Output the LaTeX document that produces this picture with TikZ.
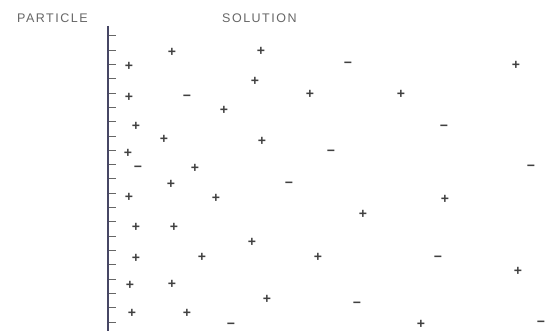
\documentclass[tikz,border=0pt]{standalone}
\usepackage{fontspec}
\newfontfamily\labelfont[LetterSpace=12]{Liberation Sans}
\newfontfamily\chargefont{Liberation Sans}
\usetikzlibrary{positioning,calc}
\definecolor{wallgray}{RGB}{70,70,100}

\begin{document}
\begin{tikzpicture}[
    x=1pt, y=-1pt,
    lbl/.style={inner sep=0pt, anchor=base west, text=black!60, font=\labelfont\fontsize{12.5}{12.5}\selectfont},
    cation/.style={inner sep=0pt, text=black!75, font=\chargefont\bfseries\fontsize{14}{14}\selectfont},
    anion/.style={cation},
    wall/.style={draw=wallgray, line width=2pt},
    tick/.style={draw=black!60, line width=1pt}
]
    \useasboundingbox (0,0) rectangle (549,331);

    % Labels
    \node[lbl] (particle) at (17,23) {PARTICLE};
    \node[lbl] (solution) at (222,23) {SOLUTION};

    % Particle surface
    \coordinate (top) at (107.5,26);
    \coordinate (bottom) at (107.5,331);
    \draw[wall] (top) -- (bottom);
    \foreach \i in {0,...,20}
        \draw[tick] ($(top)+(1.5,9.7+\i*14.33)$) -- ++(7,0);

    % Positive ions
    \foreach \x/\y [count=\n] in {172/52, 261/51, 129/66, 255/81, 129/97, 310/94,
        401/94, 516/65, 224/110, 136/126, 164/139, 262/141, 128/153, 195/168,
        171/184, 216/198, 129/197, 445/199, 363/214, 136/227, 174/227, 252/242,
        136/258, 202/257, 318/257, 518/271, 130/285, 172/284, 267/299, 132/313,
        187/313, 421/324}
        \node[cation] (p\n) at (\x,\y) {\vphantom{+}+};

    % Negative ions
    \foreach \x/\y [count=\n] in {348/63, 187/96, 444/126, 331/151, 138/167,
        531/166, 289/183, 438/257, 357/303, 231/324, 541/322}
        \node[anion] (m\n) at (\x,\y) {\vphantom{+}−};
\end{tikzpicture}
\end{document}
